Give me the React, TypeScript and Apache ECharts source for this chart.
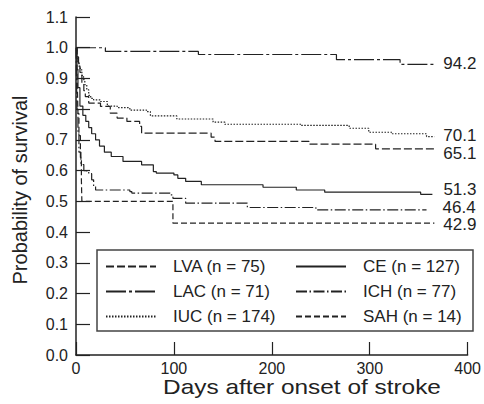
import React, { useEffect, useRef } from "react";
import * as echarts from "echarts";

const FONT = "'Liberation Sans', Arial, Helvetica, sans-serif";
const INK = "#222";

const seriesNames = [
  "LVA (n = 75)",
  "LAC (n = 71)",
  "IUC (n = 174)",
  "CE (n = 127)",
  "ICH (n = 77)",
  "SAH (n = 14)",
];
const endLabels = ["65.1", "94.2", "70.1", "51.3", "46.4", "42.9"];

const lvaDays = [0, 1, 2.6, 4, 6, 8, 9.5, 13, 25, 35, 42, 52, 65, 67, 138, 142, 238, 306, 366];
const lvaSurv = [1, 0.97, 0.95, 0.92, 0.885, 0.86, 0.841, 0.82, 0.809, 0.787, 0.771, 0.76, 0.744, 0.722, 0.709, 0.695, 0.686, 0.671, 0.671];

const lacDays = [0, 30, 125, 266, 331, 366];
const lacSurv = [1, 0.988, 0.978, 0.961, 0.946, 0.946];

const iucDays = [0, 1, 2, 3, 4.4, 6, 7.7, 9, 11, 13, 15, 18, 25, 32, 42, 55, 72, 76, 103, 140, 152, 230, 279, 299, 323, 358, 366];
const iucSurv = [1, 0.97, 0.95, 0.94, 0.928, 0.91, 0.896, 0.88, 0.863, 0.845, 0.835, 0.83, 0.825, 0.81, 0.805, 0.797, 0.792, 0.778, 0.768, 0.758, 0.751, 0.747, 0.738, 0.725, 0.72, 0.711, 0.711];

const ceDays = [0, 1, 2, 4, 7, 10, 13, 16, 20, 24, 29, 36, 48, 67, 79, 82, 100, 104, 112, 128, 191, 225, 254, 352, 364];
const ceSurv = [1, 0.93, 0.87, 0.81, 0.78, 0.76, 0.74, 0.72, 0.7, 0.68, 0.66, 0.646, 0.63, 0.619, 0.597, 0.592, 0.586, 0.575, 0.565, 0.554, 0.546, 0.537, 0.53, 0.523, 0.523];

const ichDays = [0, 0.5, 1, 2, 3, 5, 8, 11, 13, 16, 18, 20, 55, 57, 96, 99, 112, 175, 245, 358];
const ichSurv = [1, 0.9, 0.8, 0.72, 0.66, 0.62, 0.6, 0.597, 0.59, 0.57, 0.548, 0.537, 0.532, 0.527, 0.521, 0.51, 0.494, 0.48, 0.472, 0.472];

const sahDays = [0, 1, 1.5, 2, 3, 4.5, 5.5, 6, 99, 366];
const sahSurv = [1, 0.929, 0.857, 0.786, 0.714, 0.643, 0.571, 0.5, 0.429, 0.429];

const xTicks = [0, 100, 200, 300, 400];
const yMax = 1.1;
const xTitle = "Days after onset of stroke";
const yTitle = "Probability of survival";

const zip = (a: number[], b: number[]) => a.map((d, i) => [d, b[i]]);

export default function App() {
  const ref = useRef<HTMLDivElement>(null);
  useEffect(() => {
    if (!ref.current) return;
    const chart = echarts.init(ref.current, null, { renderer: "svg" });
    const dataSets = [
      zip(lvaDays, lvaSurv),
      zip(lacDays, lacSurv),
      zip(iucDays, iucSurv),
      zip(ceDays, ceSurv),
      zip(ichDays, ichSurv),
      zip(sahDays, sahSurv),
    ];
    const dashes: any[] = [[8, 3], [20, 3, 3, 3], [1.5, 1.5], "solid", [11, 2.5, 1.5, 2.5], [6, 3]];
    const labelOffsets = [[0, 5], [0, -1], [0, -1.5], [0, -4.5], [0, -2.5], [0, 1.8]];
    const labelDist = [9, 9, 9, 11, 16, 9];
    const series = seriesNames.map((name, i) => ({
      type: "line",
      name,
      data: dataSets[i],
      step: "end",
      symbol: "none",
      silent: true,
      lineStyle: { color: INK, width: 1.2, type: dashes[i] },
      itemStyle: { color: INK },
      endLabel: {
        show: true,
        formatter: () => endLabels[i],
        color: INK,
        fontSize: 17,
        fontFamily: FONT,
        distance: labelDist[i],
        offset: labelOffsets[i],
      },
    }));
    const legendCommon = {
      orient: "vertical",
      padding: 0,
      itemWidth: 50,
      itemHeight: 14,
      itemGap: 8,
      itemStyle: { opacity: 0 },
      textStyle: { color: INK, fontSize: 17, fontFamily: FONT, lineHeight: 17, padding: [0, 0, 0, 12] },
      selectedMode: false,
    };
    chart.setOption({
      animation: false,
      grid: { left: 76, right: 15, top: 17, bottom: 49 },
      xAxis: {
        type: "value",
        min: xTicks[0],
        max: xTicks[xTicks.length - 1],
        interval: 100,
        axisLine: { show: true, lineStyle: { color: INK, width: 1.5 } },
        axisTick: { show: true, inside: true, length: 13, lineStyle: { color: INK, width: 1.2 } },
        axisLabel: { color: INK, fontSize: 16, fontFamily: FONT, margin: 5 },
        splitLine: { show: false },
      },
      yAxis: {
        type: "value",
        min: 0,
        max: yMax,
        interval: 0.1,
        axisLine: { show: true, lineStyle: { color: INK, width: 1.5 } },
        axisTick: { show: true, inside: true, length: 14, lineStyle: { color: INK, width: 1.2 } },
        axisLabel: { color: INK, fontSize: 16, fontFamily: FONT, margin: 8, formatter: (v: number) => v.toFixed(1) },
        splitLine: { show: false },
      },
      legend: [
        { ...legendCommon, left: 105, top: 258, data: seriesNames.slice(0, 3) },
        { ...legendCommon, left: 295, top: 258, data: seriesNames.slice(3, 6) },
      ],
      graphic: [
        {
          type: "rect",
          shape: { x: 97, y: 250, width: 376, height: 81 },
          style: { fill: "none", stroke: "#444", lineWidth: 1.5 },
        },
        {
          type: "text",
          x: 302,
          y: 387,
          scaleX: 1.22,
          style: {
            text: xTitle,
            font: `20px ${FONT}`,
            fill: INK,
            align: "center",
            verticalAlign: "middle",
          },
        },
        {
          type: "text",
          x: 20,
          y: 190,
          rotation: Math.PI / 2,
          style: {
            text: yTitle,
            font: `20px ${FONT}`,
            fill: INK,
            align: "center",
            verticalAlign: "middle",
          },
        },
      ],
      series,
    });
    return () => chart.dispose();
  }, []);
  return <div ref={ref} style={{ position: "fixed", left: 0, top: 0, width: 484, height: 404, background: "#fff" }} />;
}
